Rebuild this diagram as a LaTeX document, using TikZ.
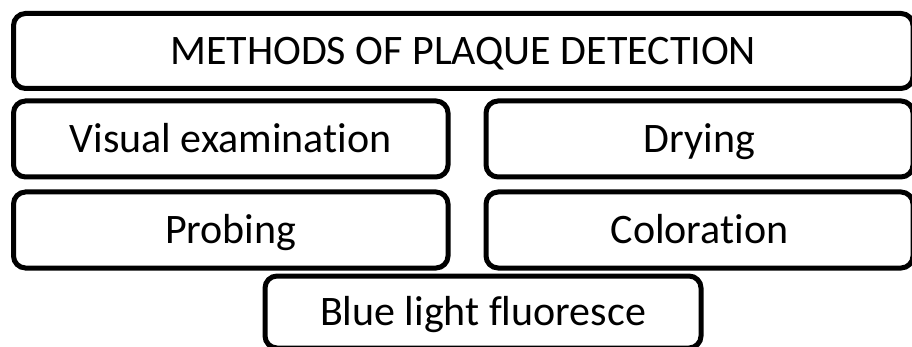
\documentclass[tikz,border=0pt]{standalone}
\usepackage{fontspec}
\setmainfont[Ligatures=NoCommon]{Carlito}
\usepackage{tikz}
\usetikzlibrary{positioning}

\begin{document}
\begin{tikzpicture}[x=1pt, y=-1pt,
                method/.style={draw=black, line width=5pt, rectangle, rounded corners=12pt, inner sep=0pt, text height=27pt, text depth=0pt, font=\fontsize{42}{50}\selectfont},
                title/.style={method, minimum width=899.5pt, minimum height=75pt},
                halfbox/.style={method, minimum width=434.5pt, minimum height=76pt},
                rightbox/.style={method, minimum width=427pt, minimum height=76pt},
                lastbox/.style={method, minimum width=436pt, minimum height=72pt}
            ]
            \useasboundingbox (0,0) rectangle (912,347);
            \clip (0,0) rectangle (912,347);

            % boxes
            \node[title] (head) at (463.25,51) {METHODS OF PLAQUE DETECTION};
            \node[halfbox] (visual) at (230.75,139) {Visual examination};
            \node[rightbox] (dry) at (699.5,139) {Drying};
            \node[halfbox] (probe) at (230.75,230) {Probing};
            \node[rightbox] (color) at (699.5,230) {Coloration};
            \node[lastbox] (blue) at (483,312) {Blue light fluoresce};

        \end{tikzpicture}
\end{document}
